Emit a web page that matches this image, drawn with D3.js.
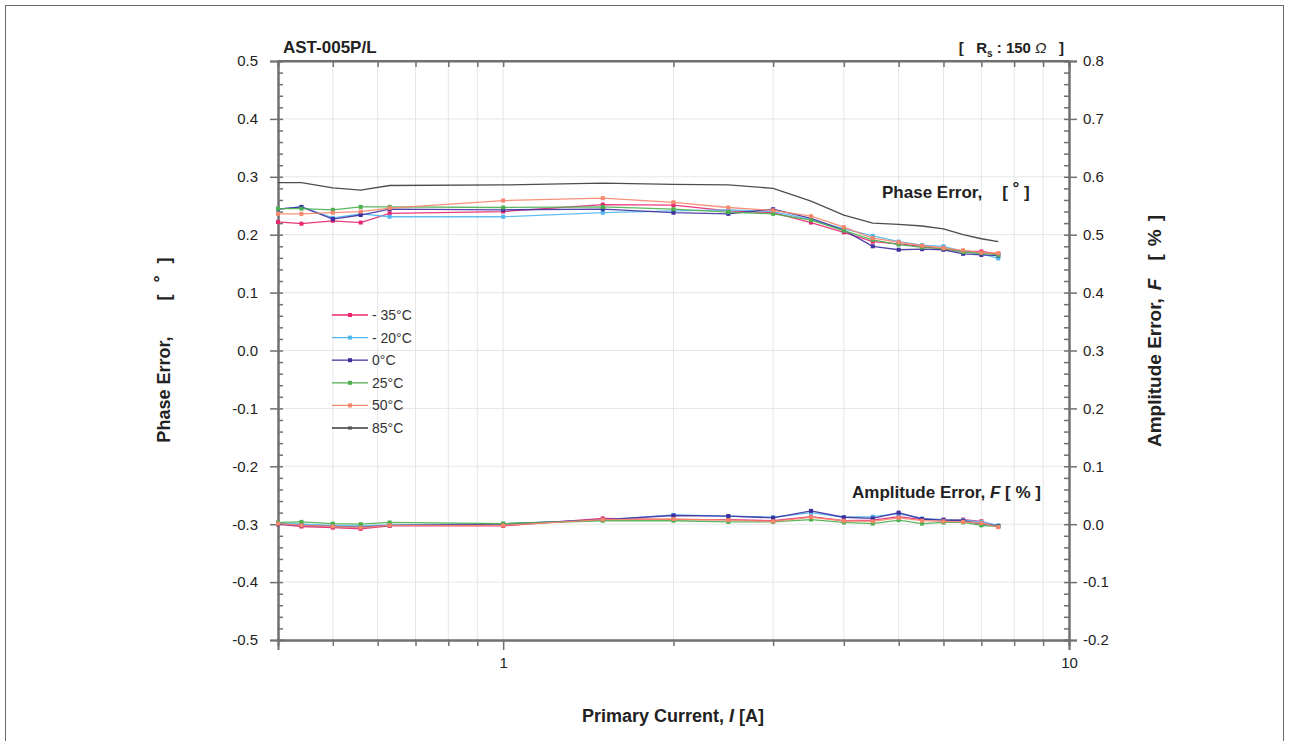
<!DOCTYPE html>
<html>
<head>
<meta charset="utf-8">
<script src="https://cdn.jsdelivr.net/npm/d3@7"></script>
<style>
  html, body { margin: 0; padding: 0; background: #fff; }
  svg { display: block; font-family: "Liberation Sans", Arial, sans-serif; }
</style>
</head>
<body>
<svg id="chart" width="1289" height="741"></svg>
<script>
// Primary current test points [A]
const currents = [0.4, 0.44, 0.5, 0.56, 0.63, 1, 1.5, 2, 2.5, 3, 3.5, 4, 4.5, 5, 5.5, 6, 6.5, 7, 7.5];

// Temperature series
const tempLabels = ["- 35°C", "- 20°C", "0°C", "25°C", "50°C", "85°C"];
const tempColors = ["#e8266f", "#52b6ee", "#3f2f9e", "#4caf50", "#f6866c", "#3a3a3a"];
const tempMarkers = [true, true, true, true, true, false];

// Phase error [°] per temperature
const phaseM35 = [0.222, 0.219, 0.224, 0.221, 0.237, 0.240, 0.252, 0.251, 0.241, 0.238, 0.221, 0.204, 0.188, 0.184, 0.180, 0.175, 0.171, 0.171, 0.167];
const phaseM20 = [0.244, 0.248, 0.229, 0.236, 0.231, 0.231, 0.238, 0.241, 0.243, 0.240, 0.226, 0.210, 0.198, 0.188, 0.182, 0.180, 0.171, 0.167, 0.159];
const phase0   = [0.244, 0.248, 0.227, 0.234, 0.244, 0.243, 0.244, 0.238, 0.236, 0.244, 0.228, 0.208, 0.180, 0.174, 0.175, 0.174, 0.167, 0.165, 0.164];
const phase25  = [0.245, 0.245, 0.243, 0.248, 0.248, 0.247, 0.248, 0.244, 0.239, 0.236, 0.225, 0.207, 0.191, 0.183, 0.178, 0.176, 0.170, 0.168, 0.165];
const phase50  = [0.236, 0.236, 0.238, 0.240, 0.246, 0.259, 0.263, 0.256, 0.247, 0.242, 0.232, 0.213, 0.194, 0.187, 0.181, 0.177, 0.173, 0.169, 0.168];
const phase85  = [0.290, 0.290, 0.281, 0.277, 0.285, 0.286, 0.289, 0.287, 0.286, 0.280, 0.258, 0.234, 0.220, 0.218, 0.215, 0.210, 0.200, 0.193, 0.188];

// Amplitude error F [%] per temperature
const ampM35 = [0.000, -0.004, -0.006, -0.008, -0.003, -0.003, 0.010, 0.008, 0.008, 0.006, 0.013, 0.006, 0.007, 0.013, 0.008, 0.008, 0.008, 0.005, -0.004];
const ampM20 = [0.002, 0.000, -0.002, -0.003, -0.001, 0.001, 0.007, 0.016, 0.014, 0.012, 0.020, 0.012, 0.013, 0.018, 0.010, 0.008, 0.007, 0.004, -0.002];
const amp0   = [0.000, -0.002, -0.004, -0.005, -0.002, 0.000, 0.008, 0.015, 0.014, 0.011, 0.023, 0.012, 0.010, 0.020, 0.009, 0.007, 0.006, 0.000, -0.003];
const amp25  = [0.003, 0.004, 0.001, 0.000, 0.003, 0.001, 0.006, 0.006, 0.004, 0.004, 0.008, 0.003, 0.001, 0.007, 0.001, 0.003, 0.003, -0.002, -0.004];
const amp50  = [0.001, -0.002, -0.004, -0.006, -0.002, -0.002, 0.008, 0.009, 0.007, 0.005, 0.012, 0.006, 0.005, 0.011, 0.006, 0.005, 0.004, 0.002, -0.005];

// Axis ticks
const leftTicks = [0.5, 0.4, 0.3, 0.2, 0.1, 0.0, -0.1, -0.2, -0.3, -0.4, -0.5];
const rightTicks = [0.8, 0.7, 0.6, 0.5, 0.4, 0.3, 0.2, 0.1, 0.0, -0.1, -0.2];
const xMajorTicks = [1, 10];
const xMinorTicks = [0.5, 0.6, 0.7, 0.8, 0.9, 2, 3, 4, 5, 6, 7, 8, 9];

const phaseSeries = [phaseM35, phaseM20, phase0, phase25, phase50, phase85];
const ampSeries = [ampM35, ampM20, amp0, amp25, amp50];

const svg = d3.select("#chart");
const L = 278, R = 1069, T = 61, B = 640;

const x = d3.scaleLog().domain([0.4, 10]).range([L, R]);
const yL = d3.scaleLinear().domain([-0.5, 0.5]).range([B, T]);
const yR = d3.scaleLinear().domain([-0.2, 0.8]).range([B, T]);

// plain hyphen-minus labels with one decimal
const fmt1 = d => (Math.abs(d) < 1e-9 ? 0 : d).toFixed(1);

// outer frame
svg.append("rect").attr("x", 5.5).attr("y", 5.5).attr("width", 1278).attr("height", 760)
  .attr("fill", "none").attr("stroke", "#6a6a6a").attr("stroke-width", 1);

// grid
const grid = svg.append("g").attr("stroke", "#e6e6e6").attr("stroke-width", 1);
grid.selectAll("line.gx").data(xMinorTicks.concat([1])).join("line")
  .attr("x1", d => x(d)).attr("x2", d => x(d)).attr("y1", T).attr("y2", B);
grid.selectAll("line.gy").data(leftTicks.slice(1, -1)).join("line")
  .attr("x1", L).attr("x2", R).attr("y1", d => yL(d)).attr("y2", d => yL(d));

const axisColor = "#707070";
const tickFont = 15;

// left axis
const gL = svg.append("g").attr("transform", `translate(${L},0)`);
gL.call(d3.axisLeft(yL).tickValues(leftTicks).tickSize(8).tickFormat(fmt1));
gL.append("g").call(d3.axisRight(yL).tickValues(d3.range(-0.5, 0.501, 0.02)).tickSize(5).tickFormat(""));
// right axis
const gR = svg.append("g").attr("transform", `translate(${R},0)`);
gR.call(d3.axisRight(yR).tickValues(rightTicks).tickSize(8).tickFormat(fmt1));
gR.append("g").call(d3.axisLeft(yR).tickValues(d3.range(-0.2, 0.801, 0.02)).tickSize(5).tickFormat(""));
// bottom axis
const gB = svg.append("g").attr("transform", `translate(0,${B})`);
gB.call(d3.axisBottom(x).tickValues(xMajorTicks).tickSize(10).tickFormat(d3.format("d")));
gB.append("g").call(d3.axisBottom(x).tickValues(xMinorTicks).tickSize(6).tickFormat(""));
// top axis
const gT = svg.append("g").attr("transform", `translate(0,${T})`);
gT.call(d3.axisBottom(x).tickValues(xMinorTicks.concat(xMajorTicks)).tickSize(6).tickFormat(""));
gT.append("line").attr("x1", L).attr("x2", R).attr("stroke", axisColor).attr("stroke-width", 2);

svg.selectAll(".domain").attr("stroke", axisColor).attr("stroke-width", 2);
svg.selectAll(".tick line").attr("stroke", axisColor).attr("stroke-width", 1.5);
svg.selectAll(".tick text").attr("font-size", tickFont).attr("fill", "#222")
  .attr("font-family", "Liberation Sans, Arial, sans-serif");
gL.selectAll(".tick text").attr("x", -20);
gR.selectAll(".tick text").attr("x", 14);
gB.selectAll(".tick text").attr("y", 17);

// series
const line = d3.line().x((d, i) => x(currents[i]));
function drawSeries(values, yScale, color, markers) {
  const g = svg.append("g");
  g.append("path").datum(values)
    .attr("d", line.y(d => yScale(d)))
    .attr("fill", "none").attr("stroke", color).attr("stroke-width", 1.3).attr("opacity", 0.9);
  if (markers) {
    g.selectAll("rect").data(values).join("rect")
      .attr("x", (d, i) => x(currents[i]) - 2).attr("y", d => yScale(d) - 2)
      .attr("width", 4).attr("height", 4).attr("fill", color);
  }
}
phaseSeries.forEach((s, k) => drawSeries(s, yL, tempColors[k], tempMarkers[k]));
ampSeries.forEach((s, k) => drawSeries(s, yR, tempColors[k], tempMarkers[k]));

// legend
const leg = svg.append("g").attr("transform", "translate(332,315)");
tempLabels.forEach((lab, k) => {
  const gy = k * 22.6;
  leg.append("line").attr("x1", 0).attr("x2", 36).attr("y1", gy).attr("y2", gy)
    .attr("stroke", tempColors[k]).attr("stroke-width", 1.3);
  leg.append("rect").attr("x", 16).attr("y", gy - 2).attr("width", 4).attr("height", 4)
    .attr("fill", tempColors[k]).attr("opacity", tempMarkers[k] ? 1 : 0.5);
  leg.append("text").attr("x", 40).attr("y", gy + 5).attr("font-size", 14).attr("fill", "#333")
    .text(lab);
});

// titles and annotations
svg.append("text").attr("x", 283).attr("y", 53).attr("font-size", 17).attr("font-weight", "bold")
  .attr("fill", "#222").text("AST-005P/L");

const rs = svg.append("text").attr("x", 1064).attr("y", 53).attr("text-anchor", "end")
  .attr("font-size", 15).attr("font-weight", "bold").attr("fill", "#222")
  .style("white-space", "pre");
rs.append("tspan").text("[   R");
rs.append("tspan").attr("font-size", 10).attr("dy", 4).text("s");
rs.append("tspan").attr("dy", -4).text(" : 150");
rs.append("tspan").attr("font-style", "italic").attr("font-weight", "normal").text(" Ω");
rs.append("tspan").text("   ]");

const pe = svg.append("text").attr("x", 882).attr("y", 198).attr("font-size", 17)
  .attr("font-weight", "bold").attr("fill", "#222");
pe.append("tspan").text("Phase Error,");
pe.append("tspan").attr("dx", 20).text("[ ");
pe.append("tspan").attr("dy", -4).text("°");
pe.append("tspan").attr("dy", 4).text(" ]");

const ae = svg.append("text").attr("x", 1041).attr("y", 498).attr("text-anchor", "end")
  .attr("font-size", 17).attr("font-weight", "bold").attr("fill", "#222");
ae.append("tspan").text("Amplitude Error, ");
ae.append("tspan").attr("font-style", "italic").text("F");
ae.append("tspan").text(" [ % ]");

const xt = svg.append("text").attr("x", 673).attr("y", 722).attr("text-anchor", "middle")
  .attr("font-size", 18).attr("font-weight", "bold").attr("fill", "#222");
xt.append("tspan").text("Primary Current, ");
xt.append("tspan").attr("font-style", "italic").text("I");
xt.append("tspan").text(" [A]");

const lt = svg.append("text").attr("transform", "translate(170,350) rotate(-90)")
  .attr("text-anchor", "middle").attr("font-size", 18).attr("font-weight", "bold").attr("fill", "#222");
lt.append("tspan").text("Phase Error,");
lt.append("tspan").attr("dx", 36).text("[");
lt.append("tspan").attr("dx", 12).attr("dy", -4).text("°");
lt.append("tspan").attr("dx", 12).attr("dy", 4).text("]");

const rt = svg.append("text").attr("transform", "translate(1161,331) rotate(-90)")
  .attr("text-anchor", "middle").attr("font-size", 19).attr("font-weight", "bold").attr("fill", "#222");
rt.append("tspan").text("Amplitude Error,");
rt.append("tspan").attr("dx", 8).attr("font-style", "italic").text("F");
rt.append("tspan").attr("dx", 18).text("[");
rt.append("tspan").attr("dx", 8).text("%");
rt.append("tspan").attr("dx", 8).text("]");
</script>
</body>
</html>
